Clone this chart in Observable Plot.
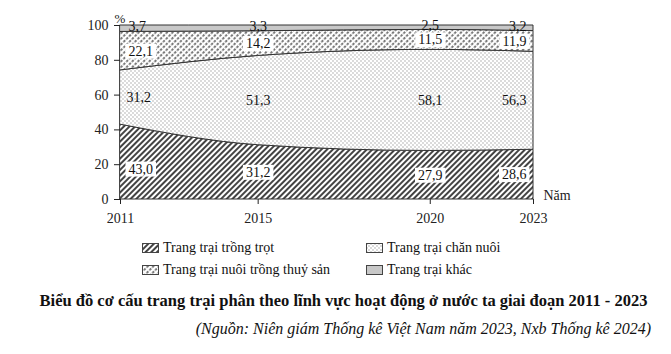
<!DOCTYPE html>
<html><head><meta charset="utf-8">
<script src="https://cdn.jsdelivr.net/npm/d3@7"></script>
<script src="https://cdn.jsdelivr.net/npm/@observablehq/plot@0.6"></script>
<style>
body{margin:0;background:#fff;font-family:"Liberation Serif","Times New Roman",serif;color:#111;}
#wrap{position:relative;width:671px;height:354px;overflow:hidden;}
#chart{position:absolute;left:0;top:0;}
.leg{position:absolute;font-size:14px;display:flex;align-items:center;white-space:nowrap;line-height:16px;}
.leg svg{margin-right:4px;}
#title{position:absolute;left:0;width:687px;top:291px;text-align:center;font-weight:bold;font-size:16.5px;white-space:nowrap;}
#source{position:absolute;right:20px;top:320px;font-style:italic;font-size:16px;white-space:nowrap;}
</style></head><body>
<svg width="0" height="0" style="position:absolute">
<defs>
<pattern id="pCrop" patternUnits="userSpaceOnUse" width="4" height="4" patternTransform="rotate(45)">
<rect width="4" height="4" fill="#fff"/>
<line x1="1" y1="0" x2="1" y2="4" stroke="#222" stroke-width="1.7"/>
</pattern>
<pattern id="pLive" patternUnits="userSpaceOnUse" width="4" height="4">
<rect width="4" height="4" fill="#fff"/>
<circle cx="1" cy="1" r="0.65" fill="#999"/>
<circle cx="3" cy="3" r="0.65" fill="#999"/>
</pattern>
<pattern id="pAqua" patternUnits="userSpaceOnUse" width="4" height="4" patternTransform="rotate(45)">
<rect width="4" height="4" fill="#fff"/>
<line x1="1" y1="0" x2="1" y2="4" stroke="#333" stroke-width="1.3" stroke-dasharray="2.6 1.4"/>
</pattern>
<pattern id="pOther" patternUnits="userSpaceOnUse" width="4" height="4">
<rect width="4" height="4" fill="#c8c8c8"/>
</pattern>
</defs>
</svg>
<div id="wrap">
<div id="chart"></div>
<div id="legend"></div>
<div id="title">Biểu đồ cơ cấu trang trại phân theo lĩnh vực hoạt động ở nước ta giai đoạn 2011 - 2023</div>
<div id="source">(Nguồn: Niên giám Thống kê Việt Nam năm 2023, Nxb Thống kê 2024)</div>
</div>
<script>
const years = [2011, 2015, 2020, 2023];
const categories = ["Trang trại trồng trọt", "Trang trại chăn nuôi", "Trang trại nuôi trồng thuỷ sản", "Trang trại khác"];
const cropValues = [43.0, 31.2, 27.9, 28.6];
const livestockValues = [31.2, 51.3, 58.1, 56.3];
const aquaValues = [22.1, 14.2, 11.5, 11.9];
const otherValues = [3.7, 3.3, 2.5, 3.2];
const yTicks = [0, 20, 40, 60, 80, 100];
const patternIds = ["pCrop", "pLive", "pAqua", "pOther"];
const boxedCategories = ["Trang trại trồng trọt", "Trang trại nuôi trồng thuỷ sản"];

const seriesValues = [cropValues, livestockValues, aquaValues, otherValues];
const data = [];
categories.forEach((c, ci) => years.forEach((y, yi) => data.push({year: y, category: c, value: seriesValues[ci][yi]})));

const fmt = v => v.toFixed(1).replace(".", ",");
const first = years[0], last = years[years.length - 1];

function labels(filterFn, opts) {
  return Plot.text(data, Plot.filter(filterFn, Plot.stackY({
    x: "year", y: "value", z: "category", order: categories,
    text: d => fmt(d.value),
    fill: "#111", fontSize: 14,
    ...opts
  })));
}

const plot = Plot.plot({
  width: 671, height: 230,
  marginLeft: 120, marginRight: 138, marginTop: 25, marginBottom: 31,
  style: {fontFamily: "'Liberation Serif','Times New Roman',serif", fontSize: "14px", color: "#222", background: "transparent", overflow: "visible"},
  x: {type: "linear", domain: [first, last]},
  y: {domain: [0, 100]},
  color: {domain: categories, range: patternIds.map(id => `url(#${id})`)},
  marks: [
    Plot.areaY(data, {x: "year", y: "value", z: "category", fill: "category", order: categories, curve: "monotone-x", stroke: "#333", strokeWidth: 1}),
    Plot.axisY({ticks: yTicks, tickSize: 6, tickPadding: 6, label: null, fontSize: 14}),
    Plot.axisX({ticks: years, tickFormat: "d", tickSize: 5, tickPadding: 9, label: null, fontSize: 14}),
    Plot.text(["%"], {frameAnchor: "top-left", dx: -6, dy: -12, fontSize: 13, fill: "#222"}),
    Plot.text(["Năm"], {frameAnchor: "bottom-right", dx: 10, textAnchor: "start", fontSize: 14, fill: "#222"}),
    // boxed labels
    labels(d => d.category === categories[0] && d.year === first, {textAnchor: "start", dx: 8, dy: 7, className: "boxed"}),
    labels(d => d.category === categories[2] && d.year === first, {textAnchor: "start", dx: 8, className: "boxed"}),
    labels(d => boxedCategories.includes(d.category) && d.year !== first && d.year !== last, {className: "boxed"}),
    labels(d => boxedCategories.includes(d.category) && d.year === last, {textAnchor: "end", dx: -7, className: "boxed"}),
    // plain labels (livestock)
    labels(d => d.category === categories[1] && d.year === first, {textAnchor: "start", dx: 6}),
    labels(d => d.category === categories[1] && d.year !== first && d.year !== last, {}),
    labels(d => d.category === categories[1] && d.year === last, {textAnchor: "end", dx: -7}),
    // other labels (on the top edge)
    labels(d => d.category === categories[3] && d.year === first, {textAnchor: "start", dx: 8, dy: -2}),
    labels(d => d.category === categories[3] && d.year !== first && d.year !== last, {dy: -2}),
    labels(d => d.category === categories[3] && d.year === last, {textAnchor: "end", dx: -7, dy: -2})
  ]
});
document.getElementById("chart").appendChild(plot);

// white boxes behind boxed labels
plot.querySelectorAll("g.boxed text").forEach(t => {
  const b = t.getBBox();
  const r = document.createElementNS("http://www.w3.org/2000/svg", "rect");
  r.setAttribute("x", b.x - 3);
  r.setAttribute("y", b.y);
  r.setAttribute("width", b.width + 6);
  r.setAttribute("height", b.height);
  r.setAttribute("fill", "#fff");
  const tr = t.getAttribute("transform");
  if (tr) r.setAttribute("transform", tr);
  t.parentNode.insertBefore(r, t);
});

// legend
const legendPos = [
  {left: 142, top: 240}, {left: 366, top: 240},
  {left: 142, top: 262}, {left: 366, top: 262}
];
const legendOrder = [0, 1, 2, 3];
const legend = document.getElementById("legend");
legendOrder.forEach((ci, i) => {
  const div = document.createElement("div");
  div.className = "leg";
  div.style.left = legendPos[i].left + "px";
  div.style.top = legendPos[i].top + "px";
  div.innerHTML = `<svg width="17" height="10"><rect x="0.5" y="0.5" width="16" height="9" fill="url(#${patternIds[ci]})" stroke="#444" stroke-width="1"/></svg><span>${categories[ci]}</span>`;
  legend.appendChild(div);
});
</script>
</body></html>
